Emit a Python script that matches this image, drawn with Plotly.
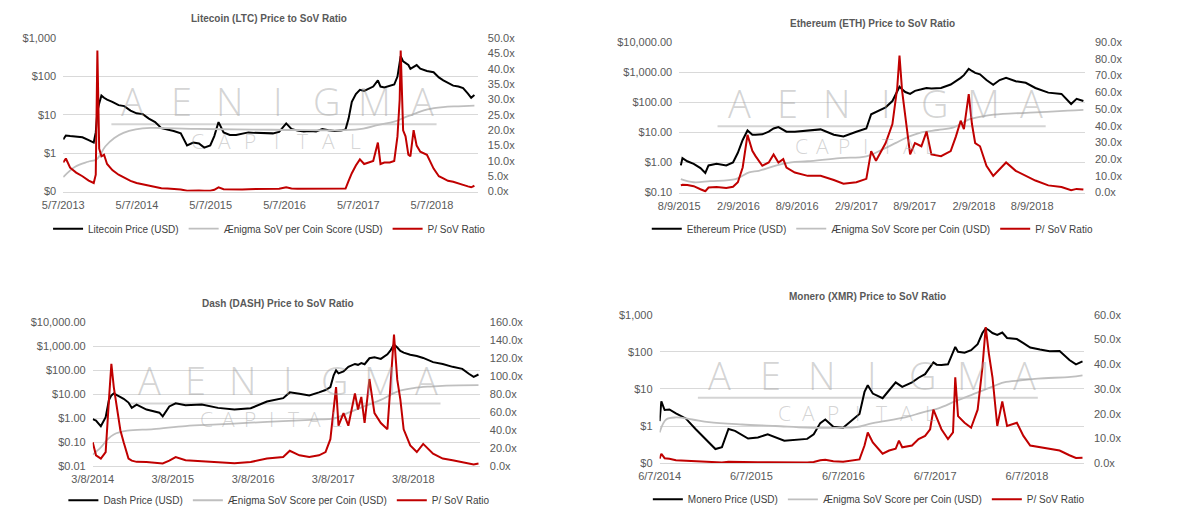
import plotly.graph_objects as go

# ---------------- DATA ----------------
# Litecoin
ltc_dates = ["2013-05-07","2013-05-20","2013-06-10","2013-07-10","2013-08-10","2013-09-10","2013-10-05","2013-10-15","2013-10-23","2013-11-01",
             "2013-11-12","2013-11-25","2013-12-10","2014-01-05","2014-02-05","2014-03-05","2014-04-05","2014-05-05","2014-06-05","2014-07-05",
             "2014-08-05","2014-09-05","2014-10-05","2014-11-05","2014-12-10","2015-01-10","2015-02-10","2015-03-10","2015-04-05","2015-05-05",
             "2015-05-25","2015-06-15","2015-07-10","2015-08-10","2015-09-10","2015-10-10","2015-11-10","2015-12-10","2016-01-10","2016-02-10",
             "2016-03-10","2016-04-10","2016-05-15","2016-06-10","2016-07-10","2016-08-10","2016-09-10","2016-10-10","2016-11-10","2016-12-10",
             "2017-01-10","2017-02-10","2017-03-05","2017-03-20","2017-04-05","2017-04-25","2017-05-15","2017-06-05","2017-06-25","2017-07-20",
             "2017-08-12","2017-08-25","2017-09-13","2017-10-10","2017-11-01","2017-11-17","2017-11-28","2017-12-03","2017-12-15","2017-12-27",
             "2018-01-10","2018-01-20","2018-02-05","2018-02-20","2018-03-10","2018-04-12","2018-05-15","2018-06-10","2018-07-02","2018-07-25",
             "2018-08-20","2018-09-15","2018-10-08","2018-11-01","2018-11-17","2018-12-03"]
ltc_price = [2.3,2.9,2.8,2.7,2.6,2.2,1.9,3.5,12,20,
             32,28,25,22,18,17,13,11,10.5,8,
             6.5,4.5,4.2,3.8,3.3,1.6,1.9,1.8,1.4,1.6,
             2.8,6.5,3.5,3.0,3.0,3.2,3.5,3.4,3.4,3.3,
             3.3,3.6,6.0,4.3,3.9,3.7,3.8,3.7,4.3,4.0,
             3.8,3.9,4.2,8,22,35,45,42,48,55,
             80,55,52,58,62,100,200,340,250,230,
             200,160,175,200,160,140,130,95,80,70,
             58,55,50,36,28,33]
ltc_ratio = [9.5,10.8,7.8,6.2,5.0,3.6,2.8,5.5,46,14,
             11.5,12,9,7,5.5,4.5,3.5,2.8,2.4,1.8,
             1.4,1.1,1.0,0.9,0.7,0.3,0.4,0.35,0.25,0.3,
             0.6,1.4,0.8,0.7,0.7,0.7,0.8,0.8,0.8,0.8,
             0.8,0.9,1.4,1.0,0.9,0.9,0.9,0.9,1.0,0.9,
             0.9,0.9,1.0,3.5,6.0,8.5,10.5,9.0,9.5,10,
             16,9,9.5,9.5,10,18,30,46,20,18,
             12,11.5,20,15,13,12,7.5,5,4.3,3.5,
             3.2,2.8,2.2,1.7,1.4,1.9]
ltc_sov_dates = ["2013-05-07","2013-07-07","2013-09-07","2013-10-20","2013-12-01","2014-01-15","2014-03-01","2014-05-01","2014-07-15","2014-10-01",
                 "2015-03-01","2015-09-01","2016-03-01","2016-09-01","2017-03-01","2017-06-01","2017-08-15","2017-11-01","2018-01-01","2018-02-15",
                 "2018-04-15","2018-07-01","2018-09-15","2018-12-03"]
ltc_sov = [0.24,0.45,0.6,0.7,1.5,2.5,3.4,4.2,4.6,4.5,
           4.3,4.2,4.1,4.0,4.0,4.4,5.5,6.7,9,11,
           14,16,16.8,17.5]
ltc_xticks = ["2013-05-07","2014-05-07","2015-05-07","2016-05-07","2017-05-07","2018-05-07"]
ltc_xtext = ["5/7/2013","5/7/2014","5/7/2015","5/7/2016","5/7/2017","5/7/2018"]
ltc_yvals = [0.1, 1, 10, 100, 1000]
ltc_ytext = ["$0", "$1", "$10", "$100", "$1,000"]

# Ethereum
eth_dates = ["2015-08-14","2015-08-19","2015-09-03","2015-09-23","2015-10-14","2015-10-29","2015-11-08","2015-12-03","2016-01-02","2016-01-23",
             "2016-02-07","2016-02-22","2016-03-08","2016-03-23","2016-04-02","2016-04-23","2016-05-13","2016-05-28","2016-06-12","2016-06-27",
             "2016-07-07","2016-08-02","2016-09-11","2016-10-21","2016-12-01","2016-12-31","2017-02-09","2017-03-12","2017-03-27","2017-04-11",
             "2017-05-11","2017-06-01","2017-06-16","2017-06-23","2017-07-01","2017-07-11","2017-07-26","2017-08-10","2017-08-30","2017-09-15",
             "2017-09-30","2017-10-30","2017-11-29","2017-12-15","2017-12-30","2018-01-09","2018-01-24","2018-02-03","2018-02-13","2018-02-28",
             "2018-03-20","2018-04-10","2018-04-30","2018-05-20","2018-06-19","2018-07-20","2018-08-19","2018-09-28","2018-11-08","2018-12-08",
             "2018-12-25","2019-01-15"]
eth_price = [0.8,1.4,1.1,0.9,0.65,0.45,0.8,0.9,0.8,1.0,
             2.1,5.6,11.6,8.4,8.4,8.6,10.6,13.5,15,12,
             10.6,10.5,11.5,12.6,8.4,7.3,10.5,13.5,40,47,
             68,110,250,330,270,220,190,240,270,300,
             290,300,390,500,650,800,1300,1100,950,850,
             550,380,550,650,500,445,300,210,190,88,
             130,110]
eth_ratio = [4.3,4.7,4.5,3.8,2.0,0.8,3.0,3.3,2.7,3.5,
             6.2,15,34.5,25,21.8,16,18,22.8,18,20,
             15,12,10,10,7.5,5.3,6.2,8.2,24.8,19,
             29.6,41,62.8,82,61,45,22.8,29.6,27.7,36.5,
             22.8,21.8,24.8,33.5,43,38,58.9,41,29.6,27.7,
             16,10,14,18,13,10,7.2,4.3,3.3,1.4,
             2.2,1.8]
eth_sov_dates = ["2015-08-14","2015-09-23","2015-11-13","2016-01-31","2016-03-13","2016-04-12","2016-06-01","2016-07-21","2016-09-11","2016-12-20",
                 "2017-03-12","2017-05-01","2017-06-12","2017-07-11","2017-08-30","2017-10-20","2017-12-10","2018-01-29","2018-03-20","2018-05-10",
                 "2018-08-19","2018-11-28","2019-01-15"]
eth_sov = [0.28,0.22,0.24,0.28,0.47,0.53,0.77,1.0,1.1,1.4,
           1.6,2.7,4.5,6.4,10,12,15,28,36,41,
           46,53,56]
eth_xticks = ["2015-08-09","2016-02-09","2016-08-09","2017-02-09","2017-08-09","2018-02-09","2018-08-09"]
eth_xtext = ["8/9/2015","2/9/2016","8/9/2016","2/9/2017","8/9/2017","2/9/2018","8/9/2018"]
eth_yvals = [0.1, 1, 10, 100, 1000, 10000]
eth_ytext = ["$0.10", "$1.00", "$10.00", "$100.00", "$1,000.00", "$10,000.00"]

# Dash
dash_dates = ["2014-03-08","2014-03-23","2014-04-14","2014-05-06","2014-05-21","2014-06-01","2014-06-12","2014-06-27","2014-07-12","2014-07-27",
              "2014-08-18","2014-09-02","2014-09-24","2014-11-08","2015-01-06","2015-01-21","2015-02-20","2015-03-21","2015-05-05","2015-07-18",
              "2015-09-30","2015-12-14","2016-02-26","2016-05-10","2016-07-23","2016-08-22","2016-10-05","2016-11-19","2017-01-02","2017-02-01",
              "2017-02-23","2017-03-10","2017-03-21","2017-04-01","2017-04-24","2017-05-16","2017-06-15","2017-06-29","2017-07-14","2017-07-29",
              "2017-08-20","2017-09-12","2017-10-11","2017-11-10","2017-11-25","2017-12-10","2017-12-25","2018-01-08","2018-01-23","2018-02-22",
              "2018-03-24","2018-04-22","2018-06-06","2018-07-20","2018-09-03","2018-10-17","2018-11-16","2018-12-08","2018-12-30"]
dash_price = [0.91,0.8,0.46,1.1,5.8,9,10.9,9,8,6.5,
              4.5,2.7,3.7,2.3,1.7,1.2,3.1,4.2,3.5,3.7,
              2.7,2.3,2.6,5,6.9,12,10.5,8.9,12,15,
              20,62,100,75,90,140,185,170,200,180,
              320,350,300,470,700,1200,900,650,550,450,
              400,330,220,185,140,115,72,53,67]
dash_ratio = [26.5,12,8.4,15.6,74,114,88,63,40,26.5,
              8.4,6,4.7,4.5,3.5,2.9,6,10,6.5,5.5,
              4.7,3.2,4.5,8.4,10,17,12,10,12,15.6,
              30,60,88,45,59,45,81,63,77,48,
              97,59,48,41,96,146.5,96,74,41,23,
              15.6,24.7,13.8,8.4,6.5,4.7,3,1.8,2.9]
dash_sov_dates = ["2014-03-08","2014-04-14","2014-05-14","2014-06-12","2014-08-12","2014-12-10","2015-05-05","2015-09-30","2016-02-26","2016-07-23",
                  "2016-12-19","2017-03-07","2017-05-16","2017-07-29","2017-10-11","2017-12-25","2018-03-09","2018-05-23","2018-08-05","2018-12-30"]
dash_sov = [0.03,0.06,0.13,0.21,0.3,0.35,0.47,0.55,0.65,0.75,
            0.88,0.95,1.7,3.2,5.8,13,18,21,23,24]
dash_xticks = ["2014-03-08","2015-03-08","2016-03-08","2017-03-08","2018-03-08"]
dash_xtext = ["3/8/2014","3/8/2015","3/8/2016","3/8/2017","3/8/2018"]
dash_yvals = [0.01, 0.1, 1, 10, 100, 1000, 10000]
dash_ytext = ["$0.01", "$0.10", "$1.00", "$10.00", "$100.00", "$1,000.00", "$10,000.00"]

# Monero
xmr_dates = ["2014-06-07","2014-06-14","2014-06-27","2014-07-16","2014-08-11","2014-09-19","2014-10-28","2014-12-07","2015-01-15","2015-02-10",
             "2015-03-08","2015-04-03","2015-05-25","2015-07-03","2015-08-11","2015-10-16","2016-01-15","2016-02-10","2016-03-07","2016-03-27",
             "2016-04-28","2016-06-06","2016-07-15","2016-08-10","2016-08-30","2016-09-12","2016-10-02","2016-11-10","2016-12-06","2017-01-01",
             "2017-01-14","2017-01-27","2017-03-07","2017-04-02","2017-04-28","2017-05-18","2017-05-31","2017-06-13","2017-07-02","2017-07-28",
             "2017-08-17","2017-08-26","2017-09-06","2017-10-02","2017-10-28","2017-11-23","2017-12-12","2017-12-25","2018-01-07","2018-01-21",
             "2018-02-09","2018-03-01","2018-03-20","2018-04-28","2018-05-24","2018-06-20","2018-07-29","2018-09-05","2018-10-15","2018-11-23",
             "2018-12-19","2019-01-14"]
xmr_price = [1.36,4.6,2.7,2.8,2.2,1.6,0.83,0.45,0.24,0.27,
             0.83,0.74,0.46,0.49,0.6,0.4,0.45,0.6,1.2,1.5,
             0.95,0.9,1.5,2.1,8.3,12.5,7.5,5.6,9.2,15,
             13,11.3,15,20,25,40,52,45,44,46,
             100,135,100,94,110,160,320,430,380,320,
             285,330,235,220,172,130,115,104,105,60,
             46,55]
xmr_ratio = [1.8,3.8,2.0,1.8,1.2,1.0,0.7,0.5,0.3,0.3,
             0.6,0.5,0.4,0.4,0.4,0.3,0.3,0.5,1.2,1.4,
             0.8,0.6,1.2,1.5,7.1,12.4,8.4,3.8,5.1,5.8,
             9.1,6.4,7.1,9.7,11,13.7,21.6,18.3,13.7,9.7,
             12.4,34.7,19,16.3,14.3,21.6,38.7,55,44,34.7,
             15,24.9,15,16.3,11,7.1,6.4,5.8,5.1,3.2,
             2.1,2.2]
xmr_sov_dates = ["2014-06-07","2014-07-03","2014-08-11","2014-10-15","2014-12-20","2015-05-01","2015-09-10","2016-01-15","2016-05-25","2016-07-28",
                 "2016-10-02","2017-02-07","2017-04-15","2017-06-20","2017-08-25","2017-10-28","2018-01-03","2018-03-08","2018-05-14","2018-07-20",
                 "2018-11-28","2019-01-14"]
xmr_sov = [0.67,1.5,1.7,1.5,1.27,1.1,1.0,0.9,0.9,0.93,
           1.2,1.7,2.3,3.0,4.6,6.8,10.3,15,17,19,
           21,23]
xmr_xticks = ["2014-06-07","2015-06-07","2016-06-07","2017-06-07","2018-06-07"]
xmr_xtext = ["6/7/2014","6/7/2015","6/7/2016","6/7/2017","6/7/2018"]
xmr_yvals = [0.1, 1, 10, 100, 1000]
xmr_ytext = ["$0", "$1", "$10", "$100", "$1,000"]

# ---------------- LAYOUT ----------------
W, H = 1196, 517
def fx(px): return px / W
def fy(py): return 1 - py / H

FONT = "Liberation Sans, Arial, sans-serif"
TXT = "#595959"
GRID = "#d9d9d9"
WM = "rgba(160,160,160,0.45)"
WM_FONT = "Open Sans, Liberation Sans, sans-serif"

panels = [
    dict(title="Litecoin (LTC) Price to SoV Ratio", dates=ltc_dates, price=ltc_price, ratio=ltc_ratio,
         sov_dates=ltc_sov_dates, sov=ltc_sov, plabel="Litecoin Price (USD)", slabel="Ænigma SoV per Coin Score (USD)",
         xticks=ltc_xticks, xtext=ltc_xtext, xrange=["2013-05-07", "2018-12-20"], yvals=ltc_yvals, ytext=ltc_ytext,
         lrange=[-1, 3], rmax=50, rdt=5, box=(43, 465, 33, 190), txy=(252, 13), lxy=(253, 228),
         wm=(100, 423, 97, 121, 173, 347, 138)),
    dict(title="Ethereum (ETH) Price to SoV Ratio", dates=eth_dates, price=eth_price, ratio=eth_ratio,
         sov_dates=eth_sov_dates, sov=eth_sov, plabel="Ethereum Price (USD)", slabel="Ænigma SoV Score per Coin (USD)",
         xticks=eth_xticks, xtext=eth_xtext, xrange=["2015-08-09", "2019-01-20"], yvals=eth_yvals, ytext=eth_ytext,
         lrange=[-1, 4], rmax=90, rdt=10, box=(670, 1083, 37, 191), txy=(867, 18), lxy=(867, 228),
         wm=(717, 1043, 99, 123, 787, 933, 143)),
    dict(title="Dash (DASH) Price to SoV Ratio", dates=dash_dates, price=dash_price, ratio=dash_ratio,
         sov_dates=dash_sov_dates, sov=dash_sov, plabel="Dash Price (USD)", slabel="Ænigma SoV Score per Coin (USD)",
         xticks=dash_xticks, xtext=dash_xtext, xrange=["2014-03-08", "2019-01-05"], yvals=dash_yvals, ytext=dash_ytext,
         lrange=[-2, 4], rmax=160, rdt=20, box=(73, 467, 324, 471), txy=(262, 305), lxy=(263, 506),
         wm=(117, 427, 383, 407, 182, 328, 423)),
    dict(title="Monero (XMR) Price to SoV Ratio", dates=xmr_dates, price=xmr_price, ratio=xmr_ratio,
         sov_dates=xmr_sov_dates, sov=xmr_sov, plabel="Monero Price (USD)", slabel="Ænigma SoV Score per Coin (USD)",
         xticks=xmr_xticks, xtext=xmr_xtext, xrange=["2014-06-07", "2019-01-20"], yvals=xmr_yvals, ytext=xmr_ytext,
         lrange=[-1, 3], rmax=60, rdt=10, box=(650, 1082, 316, 468), txy=(862, 297), lxy=(863, 505),
         wm=(697, 1035, 378, 401, 770, 933, 417)),
]

fig = go.Figure()
layout = dict(width=W, height=H, autosize=False, margin=dict(l=0, r=0, t=0, b=0),
              paper_bgcolor="white", plot_bgcolor="white", font=dict(family=FONT, color=TXT))
annotations = []
shapes = []
tick_font = dict(family=FONT, size=11, color=TXT)

for k, p in enumerate(panels):
    xid = "x" if k == 0 else f"x{k+1}"
    yl, yr = 2 * k + 1, 2 * k + 2
    ylid = "y" if yl == 1 else f"y{yl}"
    yrid = f"y{yr}"
    leg = "legend" if k == 0 else f"legend{k+1}"
    x0, x1, y0, y1 = p["box"]

    fig.add_trace(go.Scatter(x=p["dates"], y=p["price"], mode="lines", name=p["plabel"],
                             line=dict(color="#000000", width=2), xaxis=xid, yaxis=ylid, legend=leg))
    fig.add_trace(go.Scatter(x=p["sov_dates"], y=p["sov"], mode="lines", name=p["slabel"],
                             line=dict(color="#bfbfbf", width=1.8, shape="spline"), xaxis=xid, yaxis=ylid, legend=leg))
    fig.add_trace(go.Scatter(x=p["dates"], y=p["ratio"], mode="lines", name="P/ SoV Ratio",
                             line=dict(color="#c00000", width=2), xaxis=xid, yaxis=yrid, legend=leg))

    xkey = "xaxis" if k == 0 else f"xaxis{k+1}"
    layout[xkey] = dict(domain=[fx(x0), fx(x1)], anchor=ylid, type="date", range=p["xrange"],
                        tickmode="array", tickvals=p["xticks"], ticktext=p["xtext"], showgrid=False,
                        showline=True, linecolor=GRID, linewidth=1, ticks="", tickangle=0,
                        tickfont=tick_font, ticklabelstandoff=3, zeroline=False)
    ylkey = "yaxis" if yl == 1 else f"yaxis{yl}"
    layout[ylkey] = dict(domain=[fy(y1), fy(y0)], anchor=xid, type="log", range=p["lrange"],
                         tickmode="array", tickvals=p["yvals"], ticktext=p["ytext"], showgrid=True,
                         gridcolor=GRID, gridwidth=1, zeroline=False, showline=False, ticks="",
                         tickfont=tick_font, ticklabelstandoff=6)
    layout[f"yaxis{yr}"] = dict(overlaying=ylid, anchor=xid, side="right", range=[0, p["rmax"]],
                                tickmode="linear", tick0=0, dtick=p["rdt"], tickformat=".1f", ticksuffix="x",
                                showgrid=False, zeroline=False, showline=False, ticks="",
                                tickfont=tick_font, ticklabelstandoff=9)
    lx, ly = p["lxy"]
    layout[leg] = dict(orientation="h", x=fx(lx), y=fy(ly), xanchor="center", yanchor="middle",
                       font=dict(family=FONT, size=10, color="#404040"), bgcolor="rgba(0,0,0,0)",
                       itemwidth=30, traceorder="normal")

    tx, ty = p["txy"]
    annotations.append(dict(text="<b>" + p["title"] + "</b>", x=fx(tx), y=fy(ty), xref="paper", yref="paper",
                            showarrow=False, xanchor="center", yanchor="middle",
                            font=dict(family=FONT, size=10, color=TXT)))

    # watermark
    ax0, ax1, ay, lyy, cx0, cx1, cy = p["wm"]
    word = "AENIGMA"
    for i, ch in enumerate(word):
        cxp = (ax0 + 14) + (ax1 - ax0 - 28) * i / (len(word) - 1)
        annotations.append(dict(text=ch, x=fx(cxp), y=fy(ay), xref="paper", yref="paper", showarrow=False,
                                xanchor="center", yanchor="middle",
                                font=dict(family=WM_FONT, size=38, color=WM, weight=300)))
    word2 = "CAPITAL"
    for i, ch in enumerate(word2):
        cxp = (cx0 + 7) + (cx1 - cx0 - 14) * i / (len(word2) - 1)
        annotations.append(dict(text=ch, x=fx(cxp), y=fy(cy), xref="paper", yref="paper", showarrow=False,
                                xanchor="center", yanchor="middle",
                                font=dict(family=WM_FONT, size=21, color=WM, weight=300)))
    shapes.append(dict(type="line", xref="paper", yref="paper", x0=fx(ax0 - 8), x1=fx(ax1), y0=fy(lyy), y1=fy(lyy),
                       line=dict(color=WM, width=2), layer="below"))

layout["annotations"] = annotations
layout["shapes"] = shapes
fig.update_layout(**layout)
fig.write_html("out.html")
